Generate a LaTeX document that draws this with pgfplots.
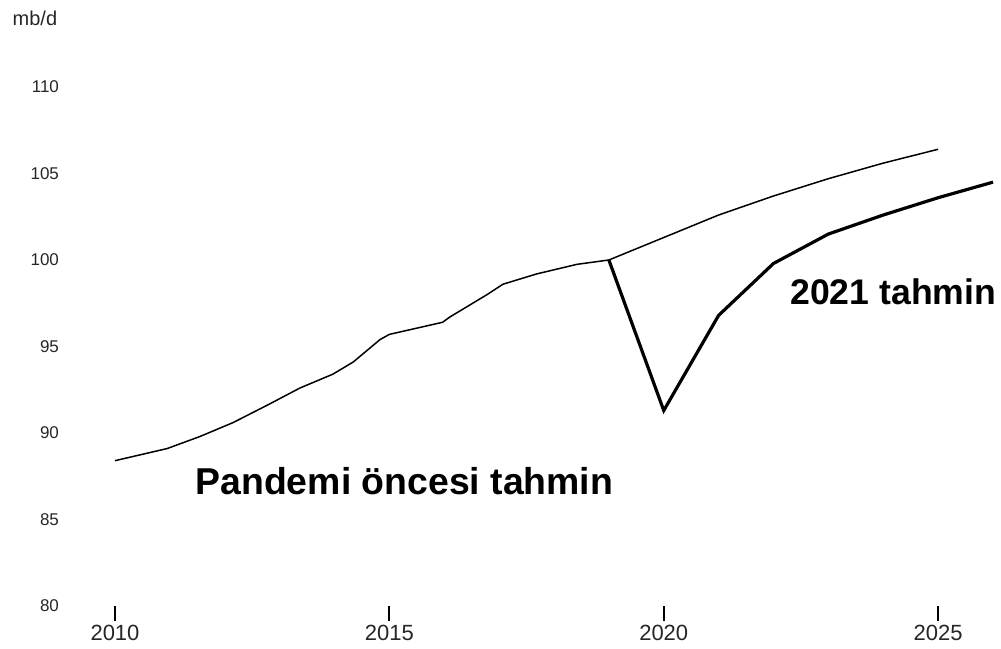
\documentclass[border=0pt]{standalone}
\usepackage{fontspec}
\setmainfont{Liberation Sans}
\usepackage{pgfplots}
\pgfplotsset{compat=1.18}
\begin{document}
\begin{tikzpicture}
\path[use as bounding box] (-57.5pt,-21pt) rectangle (443pt,303pt);
\begin{axis}[
  scale only axis, width=439pt, height=259.5pt,
  xmin=2010, xmax=2026, ymin=80, ymax=110,
  axis lines=left, axis line style={draw=none},
  xtick={2010,2015,2020,2025}, ytick={80,85,90,95,100,105,110},
  ytick style={draw=none},
  xtick style={draw=black, line width=0.9pt},
  tick align=outside, major tick length=7.5pt,
  /pgf/number format/assume math mode=true,
  /pgf/number format/1000 sep={},
  xticklabel style={font=\fontsize{11}{13}\selectfont, text=black!85, yshift=1.5pt},
  yticklabel style={font=\fontsize{8.5}{10}\selectfont, text=black!85, anchor=east, xshift=-17pt},
  clip=false,
]
\addplot[black, line width=0.75pt] coordinates {
 (2010.0,88.4) (2010.95,89.1) (2011.55,89.8) (2012.15,90.6) (2012.77,91.6)
 (2013.37,92.6) (2013.97,93.4) (2014.34,94.1) (2014.83,95.4) (2015.0,95.7)
 (2015.97,96.4) (2016.1,96.7) (2016.78,98.0) (2017.07,98.6) (2017.69,99.2)
 (2018.42,99.75) (2019.0,100.0) (2020.0,101.3) (2021.0,102.6) (2022.0,103.7)
 (2023.0,104.7) (2024.0,105.6) (2025.0,106.4)
};
\addplot[black, line width=1.6pt] coordinates {
 (2019.0,100.0) (2020.0,91.3) (2021.0,96.8) (2022.0,99.8) (2023.0,101.5)
 (2024.0,102.6) (2025.0,103.6) (2026.0,104.5)
};
\node[anchor=west, inner sep=0pt, font=\bfseries\fontsize{18.7}{20}\selectfont] at (axis cs:2011.46,87.24) {Pandemi öncesi tahmin};
\node[anchor=west, inner sep=0pt, font=\bfseries\fontsize{17.8}{20}\selectfont] at (axis cs:2022.3,98.16) {2021 tahmin};
\node[anchor=west, inner sep=0pt, font=\fontsize{10}{12}\selectfont, text=black!85] at (axis description cs:-0.117,1.133) {mb/d};
\end{axis}
\end{tikzpicture}
\end{document}
